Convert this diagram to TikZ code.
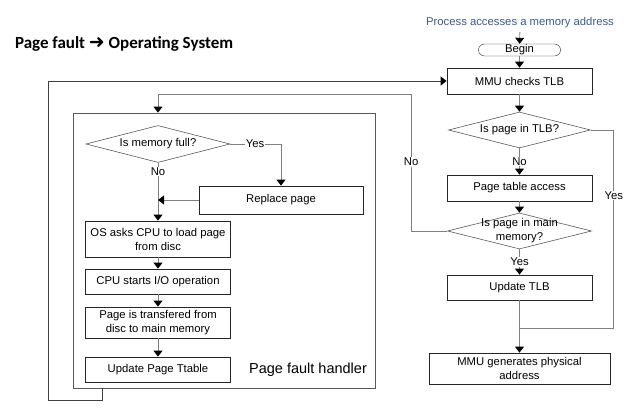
\documentclass[tikz,border=0pt]{standalone}
\usepackage{fontspec}
\setmainfont{Liberation Sans}
\newfontfamily\titlefont{Carlito}
\newfontfamily\symfont{DejaVu Sans}
\usetikzlibrary{arrows.meta,shapes.geometric,shapes.misc}

\definecolor{procblue}{RGB}{58,90,140}

\begin{document}
\begin{tikzpicture}[x=1pt,y=-1pt,-{Triangle[width=9pt,length=6pt,black]},
  box/.style = {draw=black!85,line width=0.8pt,minimum width=145pt,minimum height=26pt,inner sep=1pt,align=center},
  decision/.style = {draw=black!65,line width=0.6pt,diamond,aspect=3.9,minimum width=144pt,minimum height=37pt,inner sep=0pt},
  conn/.style = {draw=black!50,line width=0.9pt},
  loopline/.style = {draw=black!75,line width=0.9pt},
  lbl/.style = {fill=white,inner sep=1pt},
  every edge/.style = {conn},
  font = \fontsize{11.3}{14}\selectfont]

\useasboundingbox (0,0) rectangle (641,411);

\node[anchor=west,font=\titlefont\bfseries\fontsize{17}{19}\selectfont] (title) at (11.5,44) {Page fault {\symfont\mdseries\fontsize{19}{19}\selectfont ➜} Operating System};

% MMU side
\node[text=procblue] (proc) at (520,23) {Process accesses a memory address};
\node[draw=black!85,rounded rectangle,minimum width=82pt,minimum height=12pt,inner sep=0pt] (begin) at (519.5,50) {Begin};
\node[box] (mmu) [node distance=31pt,below of=begin] {MMU checks TLB};
\node[decision,minimum width=142pt,minimum height=36pt] (tlb) [node distance=49pt,below of=mmu] {Is page in TLB?};
\node[box] (pta) [node distance=58pt,below of=tlb] {Page table access};
\node[decision,minimum height=36pt,label={[align=center]center:Is page in main\\memory?}] (inmem) [node distance=43pt,below of=pta] {};
\node[box,minimum height=25pt] (utlb) [node distance=56.5pt,below of=inmem] {Update TLB};
\node[box,minimum width=181pt,minimum height=31pt] (gen) [node distance=81pt,below of=utlb] {MMU generates physical\\address};

% page fault handler
\node[draw=black!65,line width=0.8pt,minimum width=302pt,minimum height=275pt] (handler) at (224,250.5) {};
\node[anchor=south east,font=\fontsize{14.5}{16}\selectfont] (hname) at ([xshift=-5pt,yshift=8pt]handler.south east) {Page fault handler};
\node[decision] (full) at (158,144) {Is memory full?};
\node[box,minimum width=164pt,minimum height=28pt] (replace) at (281,200) {Replace page};
\node[box,minimum height=36pt] (osask) [node distance=95pt,below of=full] {OS asks CPU to load page\\from disc};
\node[box,minimum height=25pt] (cpu) [node distance=42.5pt,below of=osask] {CPU starts I/O operation};
\node[box,minimum height=31pt] (xfer) [node distance=41pt,below of=cpu] {Page is transfered from\\disc to main memory};
\node[box,minimum height=25pt] (upt) [node distance=47pt,below of=xfer] {Update Page Ttable};

\coordinate (join) at ([yshift=-28pt]utlb.south);
\coordinate (hentry) at ([yshift=18pt]handler.north);

\path (proc) edge (begin);
\path (begin) edge (mmu);
\path (mmu) edge (tlb);
\path (tlb) edge node[lbl] {No} (pta);
\path (pta) edge (inmem);
\path (inmem) edge node[lbl] {Yes} (utlb);
\path (utlb) edge (gen);
\draw[conn,-] (tlb.east) -- ++(23,0) |- node[lbl,pos=0.165] {Yes} (join);
\draw[conn] (inmem.west) -- ++(-36,0) |- node[lbl,pos=0.254] {No} (full |- hentry) -- (full |- handler.north);

\draw[conn] (full.east) -| node[lbl,pos=0.245] {Yes} (replace.north);
\path (full) edge node[lbl,pos=0.15] {No} (osask);
\draw[conn] (replace.west) -- (replace.west -| full);
\path (osask) edge (cpu);
\path (cpu) edge (xfer);
\path (xfer) edge (upt);

\draw[loopline] ([xshift=30pt]handler.south west) -- ++(0,12) -- ++(-54,0) |- (mmu.west);

\end{tikzpicture}
\end{document}
